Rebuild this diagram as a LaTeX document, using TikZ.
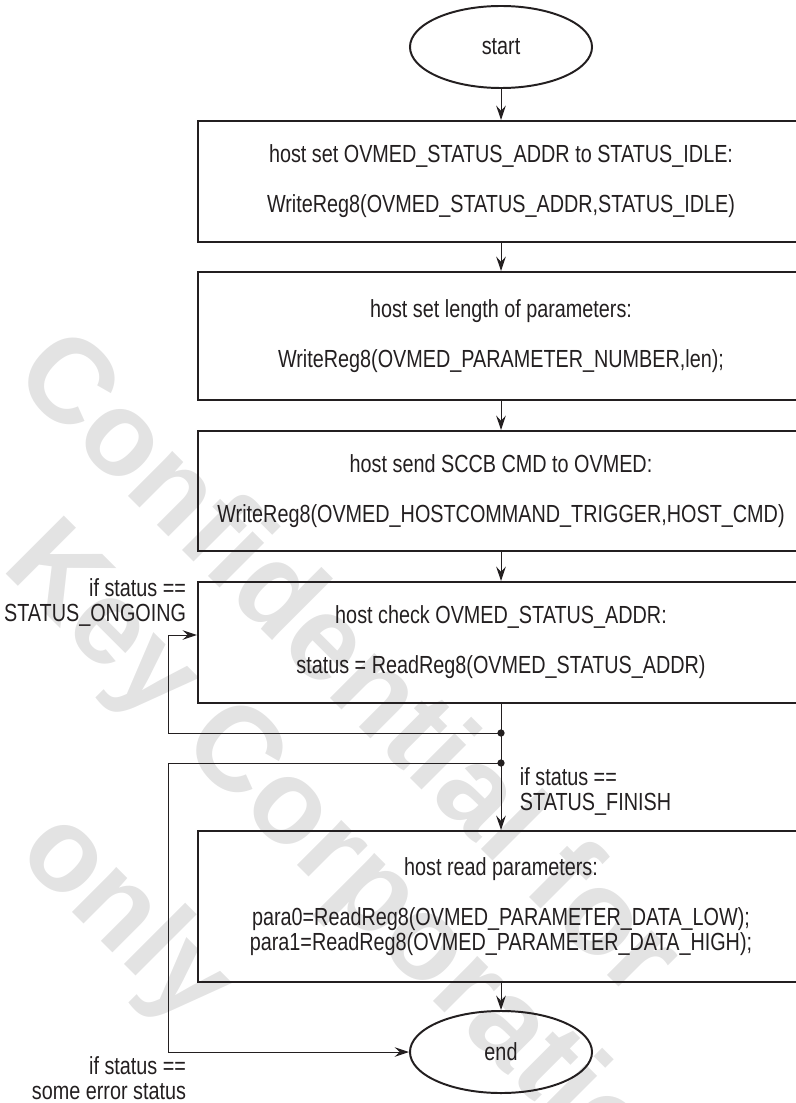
\documentclass[tikz,border=0pt]{standalone}
\usepackage{fontspec}
\setmainfont[FakeStretch=0.8]{Liberation Sans}
\newfontfamily\wmfont{Liberation Sans}
\usetikzlibrary{arrows.meta,positioning,shapes.geometric}
\definecolor{ovink}{HTML}{231F20}
\definecolor{ovwm}{HTML}{E3E3E3}
\newcommand{\flowfont}{\fontsize{17.6}{17.8}\selectfont}
\tikzset{
  stepbox/.style={draw=ovink, line width=1.4pt, align=center,
    minimum width=15.15cm, inner sep=0pt},
  term/.style={ellipse, draw=ovink, line width=1.4pt,
    minimum width=4.55cm, minimum height=2.05cm, inner sep=0pt},
  arr/.style={-{Stealth[length=3.6mm,width=2.4mm,inset=1.3mm]}, line width=0.7pt, ovink},
  wm/.style={text=ovwm, font=\wmfont\bfseries\fontsize{85}{100}\selectfont,
    rotate=-45, anchor=base west, inner sep=0pt},
}

\begin{document}
\begin{tikzpicture}[x=0.025cm, y=0.025cm, font=\flowfont, text=ovink]
    \useasboundingbox (0,0) rectangle (795,-1103);
    % watermark
    \node[wm] (wm1) at (10,-378) {Confidential for};
    \node[wm] (wm2) at (0,-568) {Key Corporation};
    \node[wm] (wm3) at (15,-855) {only};
    % flow
    \node[term] (start) at (501,-47) {start};
    \node[stepbox, minimum height=3.025cm] (setidle) at (501,-181.5)
      {host set OVMED\_STATUS\_ADDR to STATUS\_IDLE:\\[\baselineskip]WriteReg8(OVMED\_STATUS\_ADDR,STATUS\_IDLE)};
    \node[stepbox, minimum height=3.2cm] (setlen) at (501,-336)
      {host set length of parameters:\\[\baselineskip]WriteReg8(OVMED\_PARAMETER\_NUMBER,len);};
    \node[stepbox, minimum height=3.0cm] (sendcmd) at (501,-491)
      {host send SCCB CMD to OVMED:\\[\baselineskip]WriteReg8(OVMED\_HOSTCOMMAND\_TRIGGER,HOST\_CMD)};
    \node[stepbox, minimum height=3.025cm] (check) at (501,-642.5)
      {host check OVMED\_STATUS\_ADDR:\\[\baselineskip]status = ReadReg8(OVMED\_STATUS\_ADDR)};
    \node[stepbox, minimum height=3.775cm] (readpar) at (501,-906.5)
      {host read parameters:\\[\baselineskip]para0=ReadReg8(OVMED\_PARAMETER\_DATA\_LOW);\\para1=ReadReg8(OVMED\_PARAMETER\_DATA\_HIGH);};
    \node[term] (stop) at (501,-1052) {end};
    \coordinate (j1) at (501,-733);
    \coordinate (j2) at (501,-763);
    \coordinate (loopl) at (168,-635);
    \draw[arr] (start) -- (setidle);
    \draw[arr] (setidle) -- (setlen);
    \draw[arr] (setlen) -- (sendcmd);
    \draw[arr] (sendcmd) -- (check);
    \draw[arr] (check) -- (readpar);
    \draw[arr] (readpar) -- (stop);
    \draw[arr] (j1) -| (loopl) -- (loopl -| check.west);
    \draw[arr] (j2) -- (j2 -| loopl) |- (stop.west);
    \fill[ovink] (j1) circle (2.6pt) (j2) circle (2.6pt);
    % branch labels
    \node[anchor=east, align=right] (ongoing) at (191,-602.5) {if status ==\\STATUS\_ONGOING};
    \node[anchor=west, align=left] (finish) at (515,-791) {if status ==\\STATUS\_FINISH};
    \node[anchor=east, align=right] (errst) at (191,-1078.5) {if status ==\\some error status};
  \end{tikzpicture}
\end{document}
